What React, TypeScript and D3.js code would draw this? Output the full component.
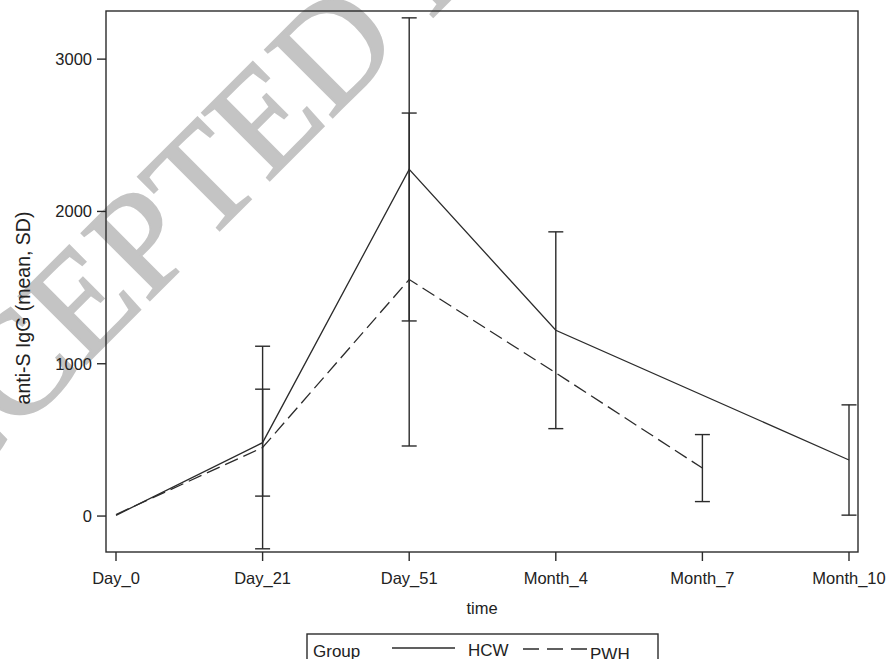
import * as d3 from "d3";
import React from "react";

const categories = ["Day_0", "Day_21", "Day_51", "Month_4", "Month_7", "Month_10"];
const hcwMean = [5, 482, 2276, 1220, null, 368];
const hcwSD = [null, 351, 995, 646, null, 362];
const pwhMean = [10, 450, 1553, 940, 315, null];
const pwhSD = [null, 665, 1093, null, 220, null];
const yTicks = [0, 1000, 2000, 3000];
const groups = ["HCW", "PWH"];

const W = 886, H = 659;
const left = 106, right = 858, top = 11, bottom = 552;
const font = "'Liberation Sans', Arial, sans-serif";
const ink = "#2b2b2b";

export default function App() {
  const x = d3.scalePoint<string>().domain(categories).range([left + 10, right - 9]);
  const y = d3.scaleLinear().domain([-236, 3316]).range([bottom, top]);

  const line = d3
    .line<[string, number]>()
    .x((d) => x(d[0])!)
    .y((d) => y(d[1]));

  const pts = (m: (number | null)[]) =>
    categories.map((c, i) => [c, m[i]] as [string, number | null]).filter((d) => d[1] != null) as [string, number][];

  const bars = (m: (number | null)[], s: (number | null)[]) =>
    categories
      .map((c, i) => ({ c, m: m[i], s: s[i] }))
      .filter((d) => d.m != null && d.s != null) as { c: string; m: number; s: number }[];

  const errBars = [...bars(hcwMean, hcwSD), ...bars(pwhMean, pwhSD)];

  return (
    <svg width={W} height={H} style={{ position: "absolute", left: 0, top: 0, background: "#fff" }}>
      {/* watermark */}
      <text
        x={0}
        y={0}
        transform="translate(-129,579) rotate(-45)"
        fontFamily="'Liberation Serif', 'Times New Roman', serif"
        fontSize={146}
        fill="#c4c4c4"
        stroke="#c4c4c4"
        strokeWidth={2}
      >
        ACCEPTED MANUSCRIPT
      </text>

      {/* frame */}
      <rect x={left} y={top} width={right - left} height={bottom - top} fill="none" stroke={ink} strokeWidth={1.4} />

      {/* y axis */}
      {yTicks.map((t) => (
        <g key={t}>
          <line x1={left - 9} x2={left} y1={y(t)} y2={y(t)} stroke={ink} strokeWidth={1.4} />
          <text x={left - 14} y={y(t)} dy="0.35em" textAnchor="end" fontFamily={font} fontSize={16.5} fill="#222">
            {t}
          </text>
        </g>
      ))}
      <text
        transform={`translate(30,308) rotate(-90)`}
        textAnchor="middle"
        fontFamily={font}
        fontSize={19.5}
        fill="#222"
      >
        anti-S IgG (mean, SD)
      </text>

      {/* x axis */}
      {categories.map((c) => (
        <g key={c}>
          <line x1={x(c)} x2={x(c)} y1={bottom} y2={bottom + 9} stroke={ink} strokeWidth={1.4} />
          <text x={x(c)} y={584} textAnchor="middle" fontFamily={font} fontSize={16.5} fill="#222">
            {c}
          </text>
        </g>
      ))}
      <text x={(left + right) / 2} y={614} textAnchor="middle" fontFamily={font} fontSize={16.5} fill="#222">
        time
      </text>

      {/* error bars */}
      {errBars.map((d, i) => (
        <g key={i} stroke={ink} strokeWidth={1.4}>
          <line x1={x(d.c)} x2={x(d.c)} y1={y(d.m - d.s)} y2={y(d.m + d.s)} />
          <line x1={x(d.c)! - 7.5} x2={x(d.c)! + 7.5} y1={y(d.m - d.s)} y2={y(d.m - d.s)} />
          <line x1={x(d.c)! - 7.5} x2={x(d.c)! + 7.5} y1={y(d.m + d.s)} y2={y(d.m + d.s)} />
        </g>
      ))}

      {/* lines */}
      <path d={line(pts(hcwMean))!} fill="none" stroke={ink} strokeWidth={1.3} />
      <path d={line(pts(pwhMean))!} fill="none" stroke={ink} strokeWidth={1.3} strokeDasharray="14,6" />

      {/* legend */}
      <rect x={307} y={634} width={351} height={40} fill="none" stroke={ink} strokeWidth={1.4} />
      <text x={313} y={657} fontFamily={font} fontSize={17} fill="#222">
        Group
      </text>
      <line x1={392} x2={455} y1={648} y2={648} stroke={ink} strokeWidth={1.3} />
      <text x={468} y={656} fontFamily={font} fontSize={17} fill="#222">
        {groups[0]}
      </text>
      <line x1={523} x2={587} y1={649} y2={649} stroke={ink} strokeWidth={1.3} strokeDasharray="16,8" />
      <text x={590} y={660} fontFamily={font} fontSize={17} fill="#222">
        {groups[1]}
      </text>
    </svg>
  );
}
